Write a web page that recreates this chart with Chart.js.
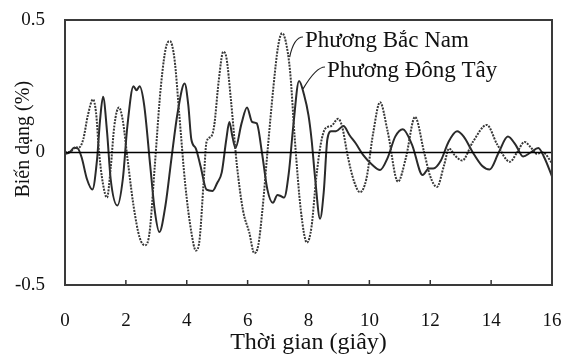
<!DOCTYPE html>
<html>
<head>
<meta charset="utf-8">
<script src="https://cdn.jsdelivr.net/npm/chart.js@4/dist/chart.umd.min.js"></script>
<style>
  html, body { margin: 0; padding: 0; background: #fff; }
  #wrap { width: 568px; height: 358px; }
</style>
</head>
<body>
<div id="wrap"><canvas id="chart" width="568" height="358"></canvas></div>
<script>
// Phương Đông Tây (solid)
const dongTayTime = [0, 0.15, 0.3, 0.42, 0.55, 0.72, 0.9, 1.05, 1.15, 1.25, 1.38, 1.5, 1.72, 1.9, 2.05, 2.25, 2.35, 2.45, 2.6, 2.8, 2.95, 3.1, 3.3, 3.5, 3.7, 3.93, 4.05, 4.15, 4.3, 4.45, 4.65, 4.85, 5.0, 5.15, 5.3, 5.4, 5.5, 5.6, 5.8, 5.98, 6.15, 6.3, 6.47, 6.65, 6.83, 6.98, 7.1, 7.2, 7.35, 7.5, 7.69, 7.85, 8.0, 8.1, 8.22, 8.38, 8.5, 8.62, 8.75, 8.9, 9.15, 9.35, 9.55, 9.8, 10.1, 10.35, 10.6, 10.85, 11.1, 11.4, 11.75, 11.95, 12.1, 12.35, 12.6, 12.88, 13.1, 13.4, 13.7, 13.95, 14.25, 14.55, 14.8, 15.05, 15.3, 15.55, 15.75, 16];
const dongTayStrain = [-0.005, 0, 0.018, 0.015, -0.02, -0.1, -0.14, -0.03, 0.12, 0.21, 0.08, -0.1, -0.2, -0.1, 0.1, 0.25, 0.235, 0.25, 0.18, -0.05, -0.22, -0.3, -0.2, -0.02, 0.15, 0.26, 0.18, 0.05, 0.015, -0.05, -0.14, -0.145, -0.115, -0.075, 0.05, 0.115, 0.06, 0.017, 0.11, 0.17, 0.115, 0.11, 0, -0.14, -0.19, -0.16, -0.165, -0.17, -0.08, 0.1, 0.27, 0.22, 0.14, 0.05, -0.1, -0.25, -0.15, 0.05, 0.08, 0.08, 0.1, 0.065, 0.035, -0.01, -0.047, -0.066, -0.02, 0.06, 0.088, 0.03, -0.085, -0.06, -0.06, -0.03, 0.04, 0.08, 0.06, 0, -0.05, -0.064, 0, 0.06, 0.03, -0.015, 0, 0.017, -0.02, -0.09];

// Phương Bắc Nam (dotted)
const bacNamTime = [0, 0.2, 0.35, 0.45, 0.6, 0.75, 0.92, 1.02, 1.12, 1.25, 1.38, 1.5, 1.62, 1.77, 1.9, 2.05, 2.25, 2.45, 2.63, 2.78, 2.95, 3.15, 3.35, 3.45, 3.6, 3.75, 3.95, 4.15, 4.3, 4.42, 4.55, 4.65, 4.8, 4.9, 5.05, 5.2, 5.3, 5.45, 5.65, 5.85, 6.05, 6.22, 6.35, 6.5, 6.65, 6.85, 7.0, 7.13, 7.25, 7.4, 7.55, 7.75, 7.95, 8.1, 8.25, 8.4, 8.55, 8.75, 8.97, 9.1, 9.3, 9.5, 9.69, 9.9, 10.12, 10.35, 10.6, 10.94, 11.2, 11.5, 11.8, 12.0, 12.22, 12.45, 12.62, 12.8, 13.05, 13.4, 13.86, 14.2, 14.62, 14.85, 15.1, 15.3, 15.5, 15.7, 16];
const bacNamStrain = [0, 0.005, 0.02, 0.018, 0.05, 0.14, 0.2, 0.15, 0, -0.12, -0.17, -0.06, 0.1, 0.17, 0.12, -0.02, -0.2, -0.32, -0.35, -0.3, -0.05, 0.25, 0.41, 0.42, 0.35, 0.15, -0.12, -0.3, -0.37, -0.33, -0.12, 0.04, 0.06, 0.1, 0.27, 0.38, 0.36, 0.2, -0.05, -0.22, -0.3, -0.38, -0.35, -0.2, 0, 0.25, 0.4, 0.45, 0.42, 0.3, 0.05, -0.22, -0.34, -0.28, -0.1, 0.03, 0.09, 0.1, 0.127, 0.1, -0.02, -0.11, -0.15, -0.1, 0.07, 0.19, 0.08, -0.11, -0.02, 0.134, 0, -0.09, -0.13, -0.05, 0.015, -0.01, -0.03, 0.04, 0.104, 0.03, -0.035, 0, 0.04, 0.02, -0.005, 0, -0.04];

const yTicks = [-0.5, 0, 0.5];
const xTickStep = 2;

const FONT = '"Liberation Serif", "Times New Roman", serif';
const yTitle = 'Biến dạng (%)';

const toPoints = (xs, ys) => xs.map((x, i) => ({ x, y: ys[i] }));

// labels with small curved leaders, anchored in data units
const notes = [
  { text: 'Phương Bắc Nam', tx: 305, ty: 41, at: { x: 7.38, y: 0.36 } },
  { text: 'Phương Đông Tây', tx: 327, ty: 71, at: { x: 7.82, y: 0.24 } }
];

const noPad = s => { s.paddingLeft = s.paddingRight = s.paddingTop = s.paddingBottom = 0; };

const framePlugin = {
  id: 'frame',
  beforeDatasetsDraw(chart) {
    const { ctx, chartArea: a, scales } = chart;
    ctx.save();
    // inward tick marks on x axis
    ctx.strokeStyle = '#333';
    ctx.lineWidth = 1.5;
    for (let v = xTickStep; v < 16; v += xTickStep) {
      const px = scales.x.getPixelForValue(v);
      ctx.beginPath();
      ctx.moveTo(px, a.bottom);
      ctx.lineTo(px, a.bottom - 5);
      ctx.stroke();
    }
    ctx.restore();
  },
  afterDatasetsDraw(chart) {
    const { ctx, chartArea: a, scales } = chart;
    ctx.save();
    // zero line
    const y0 = scales.y.getPixelForValue(0);
    ctx.strokeStyle = '#000';
    ctx.lineWidth = 1.5;
    ctx.beginPath();
    ctx.moveTo(a.left, y0);
    ctx.lineTo(a.right, y0);
    ctx.stroke();
    // frame
    ctx.strokeStyle = '#3a3a3a';
    ctx.lineWidth = 2;
    ctx.strokeRect(a.left, a.top, a.right - a.left, a.bottom - a.top);
    // y title, sitting a bit above the middle like the original
    ctx.font = '20px ' + FONT;
    ctx.fillStyle = '#111';
    ctx.textAlign = 'center';
    ctx.textBaseline = 'middle';
    ctx.save();
    ctx.translate(24, a.top + (a.bottom - a.top) * 0.45);
    ctx.rotate(-Math.PI / 2);
    ctx.fillText(yTitle, 0, 0);
    ctx.restore();
    // notes
    ctx.font = '23px ' + FONT;
    ctx.textAlign = 'left';
    ctx.lineWidth = 1.2;
    ctx.strokeStyle = '#222';
    notes.forEach(n => {
      ctx.fillText(n.text, n.tx, n.ty);
      const ex = scales.x.getPixelForValue(n.at.x);
      const ey = scales.y.getPixelForValue(n.at.y);
      const sx = n.tx - 2, sy = n.ty - 4;
      ctx.beginPath();
      ctx.moveTo(sx, sy);
      ctx.quadraticCurveTo(sx - 9, sy, ex, ey);
      ctx.stroke();
    });
    ctx.restore();
  }
};

new Chart(document.getElementById('chart'), {
  type: 'line',
  data: {
    datasets: [
      {
        label: 'Phương Bắc Nam',
        data: toPoints(bacNamTime, bacNamStrain),
        borderColor: '#383838',
        borderWidth: 2,
        borderDash: [2, 1.2],
        pointRadius: 0,
        cubicInterpolationMode: 'monotone',
        fill: false
      },
      {
        label: 'Phương Đông Tây',
        data: toPoints(dongTayTime, dongTayStrain),
        borderColor: '#2a2a2a',
        borderWidth: 2,
        pointRadius: 0,
        cubicInterpolationMode: 'monotone',
        fill: false
      }
    ]
  },
  options: {
    responsive: false,
    animation: false,
    layout: { padding: { top: 20, right: 16, left: 0, bottom: 0 } },
    plugins: { legend: { display: false }, tooltip: { enabled: false } },
    scales: {
      x: {
        type: 'linear',
        min: 0,
        max: 16,
        ticks: { stepSize: xTickStep, padding: 17, color: '#111', font: { family: FONT, size: 19 }, maxRotation: 0 },
        grid: { display: false },
        border: { display: false },
        title: { display: true, text: 'Thời gian (giây)', color: '#111', font: { family: FONT, size: 24 }, padding: { top: 0, bottom: 1 } },
        afterFit(s) { s.height = 73; noPad(s); }
      },
      y: {
        min: -0.5,
        max: 0.5,
        afterBuildTicks(s) { s.ticks = yTicks.map(v => ({ value: v })); },
        ticks: { padding: 12, color: '#111', font: { family: FONT, size: 19 } },
        grid: { display: false },
        border: { display: false },
        afterFit(s) { s.width = 65; noPad(s); }
      }
    }
  },
  plugins: [framePlugin]
});
</script>
</body>
</html>
